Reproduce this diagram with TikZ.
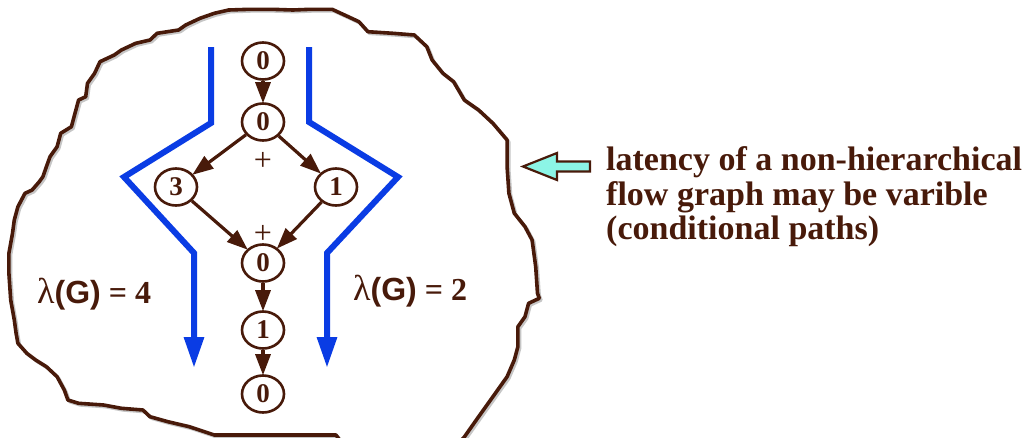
\documentclass[tikz,border=0pt]{standalone}
\usepackage{fontspec}
\setmainfont{Liberation Serif}
\newfontfamily\lsans{Liberation Sans}
\usetikzlibrary{arrows.meta,shapes.geometric}
\definecolor{brn}{RGB}{72,26,10}
\definecolor{pathblue}{RGB}{10,60,228}
\definecolor{aquafill}{RGB}{140,245,230}
\newcommand\drawblob[1]{\draw[#1] (200,18.3) -- (214.3,13.3) -- (228.6,10) -- (250,9.3) -- (271.4,9.3) -- (292.9,10) -- (310.7,9.3) -- (332.1,9.3) -- (348.2,16.7) -- (358.9,21.7) -- (367.9,31.7) -- (392.9,33.3) -- (414.3,35) -- (426.8,46.7) -- (432.1,60) -- (442.9,73.3) -- (453.6,81.7) -- (464.3,100) -- (478.6,110) -- (492.9,123.3) -- (507.1,140) -- (507.1,166.7) -- (508.9,193.3) -- (514.3,213.3) -- (525,226.7) -- (532.1,240) -- (535.7,266.7) -- (537.5,293.3) -- (539.3,298.3) -- (528.6,303.3) -- (525,316.7) -- (517.9,326.7) -- (517.9,346.7) -- (514.3,360) -- (507.1,376.7) -- (492.9,396.7) -- (478.6,416.7) -- (464.3,437) -- (455,447) -- (345,447) -- (336,435) -- (214.3,435) -- (189.3,426.7) -- (167.9,421.7) -- (150,416.7) -- (142.9,410) -- (121.4,408.3) -- (103.6,405) -- (78.6,403.3) -- (67.9,400) -- (64.3,390) -- (57.1,376.7) -- (46.4,366.7) -- (35.7,360) -- (26.8,353.3) -- (17.9,343.3) -- (16.1,333.3) -- (14.3,320) -- (10.7,300) -- (8.9,273.3) -- (8.9,253.3) -- (12.5,233.3) -- (14.3,220) -- (17.9,206.7) -- (25,193.3) -- (32.1,190) -- (39.3,181.7) -- (42.9,176.7) -- (46.4,166.7) -- (50,156.7) -- (57.1,146.7) -- (60.7,133.3) -- (71.4,126.7) -- (75,113.3) -- (78.6,100) -- (85.7,96.7) -- (87.5,83.3) -- (94.6,73.3) -- (100,61.7) -- (114.3,55) -- (121.4,50) -- (135.7,43.3) -- (150,40) -- (157.1,33.3) -- (178.6,30) -- (185.7,25) -- cycle;}
\begin{document}
\begin{tikzpicture}[x=1pt,y=-1pt,
  vnode/.style={ellipse, draw=brn, line width=2.6pt, minimum width=42pt, minimum height=37pt, inner sep=0pt, text=brn, font=\fontsize{27}{27}\selectfont\bfseries},
  edge/.style={draw=brn, line width=3.2pt, -{Triangle[length=21pt,width=15pt]}, shorten >=-1pt},
  flow/.style={draw=pathblue, line width=6pt, -{Triangle[length=31pt,width=19pt]}},
  plussign/.style={text=brn, inner sep=0pt, font=\fontsize{32}{32}\selectfont},
  lbl/.style={text=brn, inner sep=0pt, anchor=base west, font=\fontsize{32}{32}\selectfont\bfseries},
  note/.style={text=brn, inner sep=0pt, anchor=base west, font=\fontsize{34}{35}\selectfont\bfseries}]
\useasboundingbox (0,0) rectangle (1024,437);
\clip (0,0) rectangle (1024,437);
\fill[white] (0,0) rectangle (1024,437);
% blob outline with faint shadow
\drawblob{gray!45, line width=3.2pt, line join=round, shift={(1.8,1.8)}}
\drawblob{brn, line width=3.6pt, line join=round}
% flow graph nodes
\node[vnode] (a) at (263,61) {0};
\node[vnode] (b) at (263,122) {0};
\node[vnode] (c) at (176,187) {3};
\node[vnode] (d) at (336,187) {1};
\node[vnode] (e) at (263,263) {0};
\node[vnode] (f) at (263,330) {1};
\node[vnode] (g) at (263,394) {0};
\node[plussign] (p1) at (263,161) {+};
\node[plussign] (p2) at (263,234) {+};
\draw[edge] (a) -- (b);
\draw[edge] (b) -- (c);
\draw[edge] (b) -- (d);
\draw[edge] (c) -- (e);
\draw[edge] (d) -- (e);
\draw[edge] (e) -- (f);
\draw[edge] (f) -- (g);
% blue paths
\coordinate (l0) at (211,47);
\coordinate (l1) at (211,123);
\coordinate (l2) at (124,177);
\coordinate (l3) at (194,253);
\coordinate (l4) at (194,368);
\coordinate (r0) at (309,47);
\coordinate (r1) at (309,122);
\coordinate (r2) at (398,177);
\coordinate (r3) at (327,253);
\coordinate (r4) at (327,368);
\draw[flow] (l0) -- (l1) -- (l2) -- (l3) -- (l4);
\draw[flow] (r0) -- (r1) -- (r2) -- (r3) -- (r4);
% labels
\node[lbl] (lam4) at (37,303) {\mdseries\fontsize{36}{36}\selectfont λ\bfseries\fontsize{32}{32}\selectfont{\lsans(G)} = 4};
\node[lbl] (lam2) at (353,300) {\mdseries\fontsize{36}{36}\selectfont λ\bfseries\fontsize{32}{32}\selectfont{\lsans(G)} = 2};
% cyan arrow
\draw[brn, line width=2.2pt, fill=aquafill, line join=miter] (523,166.5) -- (557,153) -- (557,161.5) -- (590,161.5) -- (590,171.5) -- (557,171.5) -- (557,180) -- cycle;
% note text
\node[note] (t1) at (606,170) {latency of a non-hierarchical};
\node[note] (t2) at (606,205) {flow graph may be varible};
\node[note] (t3) at (606,239) {(conditional paths)};
\end{tikzpicture}
\end{document}
